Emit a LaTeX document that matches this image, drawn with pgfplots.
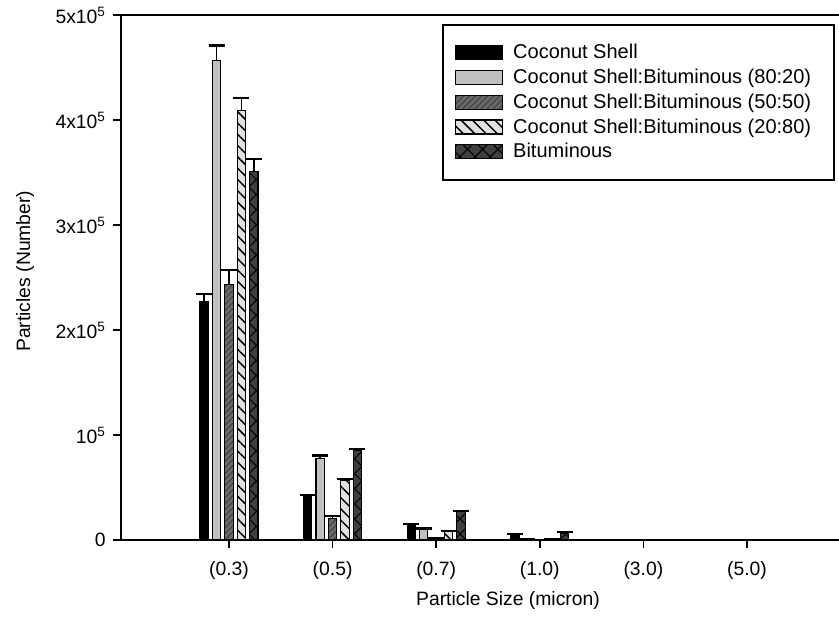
\documentclass[border=0pt]{standalone}
\usepackage{pgfplots}
\pgfplotsset{compat=1.18}
\usepackage{pgfplotstable}
\usepackage{fontspec}
\setmainfont{Liberation Sans}
\usetikzlibrary{patterns,patterns.meta}
\definecolor{gA}{RGB}{192,192,192}
\definecolor{gB}{RGB}{105,105,105}
\definecolor{gC}{RGB}{225,225,225}
\definecolor{gD}{RGB}{64,64,64}
\pgfplotstableread{
idx cs cse a ae b be c ce d de
0 227000 7000 457000 14000 243500 13500 409000 12000 351000 12000
1 42400 600 77900 2600 20800 2300 56700 1300 85200 1800
2 14500 500 10300 700 1500 300 8100 600 26800 700
3 5500 500 500 200 200 100 500 200 6500 900
4 0 0 0 0 0 0 0 0 0 0
5 0 0 0 0 0 0 0 0 0 0
}\data
\begin{document}
\begin{tikzpicture}[font=\fontsize{14.5}{17}\selectfont]
\begin{axis}[
  at={(0,0)}, anchor=south west, scale only axis,
  width=538.5pt, height=393.75pt,
  xmin=-1.042, xmax=5.888, ymin=0, ymax=500000,
  axis x line*=box, axis y line*=left,
  axis line style={line width=1.2pt},
  xtick pos=bottom, ytick pos=left, tick align=outside,
  major tick length=6pt,
  every tick/.style={line width=1.2pt, black},
  xtick={0,1,2,3,4,5},
  xticklabels={(0.3),(0.5),(0.7),(1.0),(3.0),(5.0)},
  ytick={0,100000,200000,300000,400000,500000},
  yticklabels={0,10\textsuperscript{5},2x10\textsuperscript{5},3x10\textsuperscript{5},4x10\textsuperscript{5},5x10\textsuperscript{5}},
  scaled y ticks=false,
  xticklabel style={yshift=-6.75pt},
  yticklabel style={xshift=-2pt},
  every axis x label/.style={at={(axis description cs:0.539,0)}, anchor=center, yshift=-45pt},
  every axis y label/.style={at={(axis description cs:-0.1337,0.512)}, rotate=90, anchor=center},
  xlabel={Particle Size (micron)},
  ylabel={Particles (Number)},
  ybar, bar width=0.08,
  legend cell align=left,
  legend style={at={(axis description cs:0.447,0.983)}, anchor=north west,
    draw=black, line width=1.2pt, inner xsep=9pt, inner ysep=12.8pt,
    row sep=2.2pt, font=\fontsize{15}{17.5}\selectfont},
  legend image code/.code={\draw[#1, line width=0.8pt] (0pt,-5.25pt) rectangle (35.25pt,5.25pt); \path (41pt,0pt);},
  every axis plot/.append style={draw=black, line width=0.9pt,
    error bars/y dir=plus, error bars/y explicit,
    error bars/error bar style={line width=1.2pt, black, solid},
    error bars/error mark options={rotate=90, mark size=6pt, line width=1.6pt, black}},
]
\addplot[fill=black, bar shift=-0.24] table[x=idx, y=cs, y error=cse] {\data};
\addlegendentry{Coconut Shell}
\addplot[fill=gA, bar shift=-0.12] table[x=idx, y=a, y error=ae] {\data};
\addlegendentry{Coconut Shell:Bituminous (80:20)\hspace*{6pt}}
\addplot[fill=gB, bar shift=0, postaction={pattern={Lines[angle=45,distance=3.2pt,line width=0.8pt]}, pattern color=black!75}] table[x=idx, y=b, y error=be] {\data};
\addlegendentry{Coconut Shell:Bituminous (50:50)}
\addplot[fill=gC, bar shift=0.12, postaction={pattern={Lines[angle=-45,distance=6pt,line width=1.1pt]}, pattern color=black}] table[x=idx, y=c, y error=ce] {\data};
\addlegendentry{Coconut Shell:Bituminous (20:80)}
\addplot[fill=gD, bar shift=0.24, postaction={pattern={Hatch[angle=45,distance=8pt,line width=0.8pt]}, pattern color=black}] table[x=idx, y=d, y error=de] {\data};
\addlegendentry{Bituminous}
\end{axis}
\pgfresetboundingbox
\path[use as bounding box] (-90.75pt,-69pt) rectangle (538.5pt,405pt);
\end{tikzpicture}
\end{document}
